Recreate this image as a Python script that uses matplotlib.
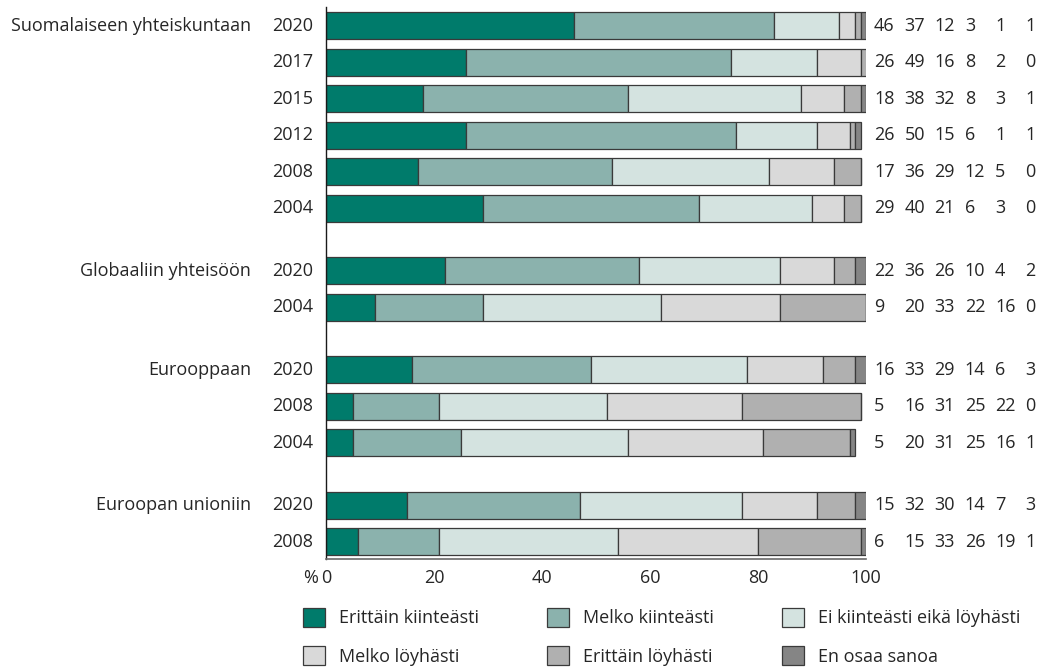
import matplotlib.pyplot as plt
from matplotlib.patches import Patch

plt.rcParams['font.family'] = ['Open Sans', 'DejaVu Sans']

# answer categories, from "very firmly" to "can't say"
categories = ['Erittäin kiinteästi', 'Melko kiinteästi', 'Ei kiinteästi eikä löyhästi',
              'Melko löyhästi', 'Erittäin löyhästi', 'En osaa sanoa']
colors = ['#007b6b', '#8bb2ad', '#d4e3e0', '#d9d9d9', '#b0b0b0', '#858585']

groups = ['Suomalaiseen yhteiskuntaan', 'Globaaliin yhteisöön', 'Eurooppaan', 'Euroopan unioniin']

years_suomi = [2020, 2017, 2015, 2012, 2008, 2004]
suomi = [
    [46, 37, 12, 3, 1, 1],
    [26, 49, 16, 8, 2, 0],
    [18, 38, 32, 8, 3, 1],
    [26, 50, 15, 6, 1, 1],
    [17, 36, 29, 12, 5, 0],
    [29, 40, 21, 6, 3, 0],
]

years_global = [2020, 2004]
globaali = [
    [22, 36, 26, 10, 4, 2],
    [9, 20, 33, 22, 16, 0],
]

years_eur = [2020, 2008, 2004]
eurooppa = [
    [16, 33, 29, 14, 6, 3],
    [5, 16, 31, 25, 22, 0],
    [5, 20, 31, 25, 16, 1],
]

years_eu = [2020, 2008]
eu = [
    [15, 32, 30, 14, 7, 3],
    [6, 15, 33, 26, 19, 1],
]

all_years = [years_suomi, years_global, years_eur, years_eu]
all_values = [suomi, globaali, eurooppa, eu]

GAP = 0.71
FS = 13
TEXT = '#262626'
EDGE = '#3a3a3a'

fig = plt.figure(figsize=(10.43, 6.70), dpi=100)
ax = fig.add_axes([0.3126, 0.1657, 0.5177, 0.8239])

pos = 0.0
for g, (name, yrs, vals) in enumerate(zip(groups, all_years, all_values)):
    for i, (yr, row) in enumerate(zip(yrs, vals)):
        left = 0
        for v, c in zip(row, colors):
            ax.barh(pos, v, left=left, height=0.74, color=c,
                    edgecolor=EDGE, linewidth=0.9)
            left += v
        ax.text(-2.4, pos, str(yr), ha='right', va='center', fontsize=FS, color=TEXT,
                clip_on=False)
        if i == 0:
            ax.text(-13.9, pos, name, ha='right', va='center', fontsize=FS, color=TEXT,
                    clip_on=False)
        for k, v in enumerate(row):
            ax.text(101.5 + k * 5.6, pos, str(v), ha='left', va='center', fontsize=FS,
                    color=TEXT, clip_on=False)
        pos += 1
    pos += GAP

ax.set_xlim(0, 100)
ax.set_ylim(pos - GAP - 1 + 0.47, -0.52)
ax.set_xticks([0, 20, 40, 60, 80, 100])
ax.set_xticklabels(['0', '20', '40', '60', '80', '100'])
ax.set_yticks([])
ax.tick_params(axis='x', length=0, pad=7, labelsize=FS, labelcolor=TEXT)
ax.annotate('%', xy=(0, 0), xycoords='axes fraction', xytext=(-6, -7),
            textcoords='offset points', ha='right', va='top', fontsize=FS, color=TEXT)

for s in ['top', 'right']:
    ax.spines[s].set_visible(False)
ax.spines['left'].set_color('#1a1a1a')
ax.spines['left'].set_linewidth(1.0)
ax.spines['bottom'].set_color('#6a6a6a')
ax.spines['bottom'].set_linewidth(1.2)

handles = [Patch(facecolor=c, edgecolor=EDGE, linewidth=0.9) for c in colors]
order = [0, 3, 1, 4, 2, 5]
fig.legend([handles[i] for i in order], [categories[i] for i in order],
           ncol=3, loc='upper left', bbox_to_anchor=(303 / 1043, 1 - 608 / 670),
           frameon=False, fontsize=FS, handlelength=1.22, handleheight=1.22,
           handletextpad=0.75, columnspacing=3.8, labelspacing=1.05,
           borderpad=0, borderaxespad=0, labelcolor=TEXT)

fig.savefig('out.png', dpi=100)
